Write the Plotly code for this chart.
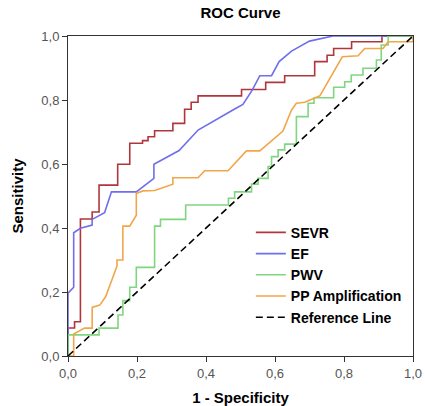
import plotly.graph_objects as go

# ---- data ----
sevr_fpr = [0, 0, 0.019, 0.019, 0.036, 0.036, 0.07, 0.07, 0.09, 0.09, 0.144, 0.144, 0.179, 0.179,
            0.216, 0.216, 0.232, 0.232, 0.251, 0.251, 0.304, 0.304, 0.338, 0.338, 0.357, 0.357,
            0.377, 0.377, 0.503, 0.503, 0.573, 0.573, 0.628, 0.628, 0.715, 0.715, 0.751, 0.751,
            0.770, 0.770, 0.822, 0.822, 0.910, 0.910, 1.0]
sevr_tpr = [0, 0.0875, 0.0875, 0.107, 0.107, 0.428, 0.428, 0.45, 0.45, 0.534, 0.534, 0.599, 0.599, 0.665,
            0.665, 0.673, 0.673, 0.685, 0.685, 0.704, 0.704, 0.727, 0.727, 0.771, 0.771, 0.793,
            0.793, 0.813, 0.813, 0.833, 0.833, 0.855, 0.855, 0.876, 0.876, 0.92, 0.92, 0.94,
            0.94, 0.961, 0.961, 0.982, 0.982, 1.0, 1.0]

ef_fpr = [0, 0, 0.0165, 0.0165, 0.036, 0.07, 0.07, 0.106, 0.126, 0.198, 0.249, 0.249, 0.322, 0.377,
          0.483, 0.507, 0.534, 0.556, 0.59, 0.612, 0.648, 0.70, 0.768, 1.0]
ef_tpr = [0, 0.196, 0.215, 0.385, 0.399, 0.409, 0.427, 0.448, 0.513, 0.513, 0.555, 0.599, 0.642, 0.706,
          0.772, 0.786, 0.831, 0.876, 0.876, 0.92, 0.953, 0.984, 1.0, 1.0]

pwv_fpr = [0, 0, 0.09, 0.09, 0.145, 0.145, 0.159, 0.159, 0.179, 0.179, 0.198, 0.198, 0.251, 0.251,
           0.268, 0.268, 0.341, 0.341, 0.465, 0.465, 0.483, 0.483, 0.532, 0.532, 0.551, 0.551,
           0.58, 0.58, 0.59, 0.59, 0.609, 0.609, 0.628, 0.628, 0.662, 0.662, 0.696, 0.696,
           0.713, 0.713, 0.77, 0.77, 0.802, 0.802, 0.821, 0.821, 0.855, 0.855, 0.894, 0.894,
           0.908, 0.908, 0.928, 0.928, 1.0]
pwv_tpr = [0, 0.066, 0.066, 0.087, 0.087, 0.128, 0.128, 0.173, 0.173, 0.215, 0.215, 0.277, 0.277, 0.406,
           0.406, 0.427, 0.427, 0.472, 0.472, 0.493, 0.493, 0.513, 0.513, 0.537, 0.537, 0.555,
           0.555, 0.592, 0.592, 0.623, 0.623, 0.644, 0.644, 0.662, 0.662, 0.748, 0.748, 0.79,
           0.79, 0.807, 0.807, 0.84, 0.84, 0.857, 0.857, 0.878, 0.878, 0.899, 0.899, 0.925,
           0.925, 0.972, 0.972, 1.0, 1.0]

pp_fpr = [0, 0.0165, 0.0165, 0.048, 0.07, 0.07, 0.092, 0.109, 0.129, 0.142, 0.142, 0.159, 0.159,
          0.179, 0.198, 0.198, 0.217, 0.251, 0.304, 0.304, 0.377, 0.396, 0.464, 0.517, 0.556,
          0.623, 0.648, 0.662, 0.686, 0.71, 0.73, 0.795, 0.841, 0.86, 0.913, 0.928, 1.0, 1.0]
pp_tpr = [0, 0, 0.069, 0.087, 0.087, 0.152, 0.159, 0.185, 0.243, 0.281, 0.30, 0.30, 0.406,
          0.406, 0.44, 0.508, 0.516, 0.517, 0.537, 0.557, 0.557, 0.579, 0.579, 0.641, 0.641,
          0.703, 0.769, 0.79, 0.793, 0.805, 0.813, 0.935, 0.938, 0.961, 0.961, 0.982, 0.982, 1.0]

ref_x = [0, 1]
ref_y = [0, 1]

series_names = ["SEVR", "EF", "PWV", "PP Amplification"]
series_colors = ["#B0363C", "#6E6EEE", "#7FD67F", "#F2A64A"]
tick_vals = [0, 0.2, 0.4, 0.6, 0.8, 1.0]

FONT = "Arial, 'Liberation Sans', sans-serif"

fig = go.Figure()
for name, xs, ys, col in zip(series_names,
                             [sevr_fpr, ef_fpr, pwv_fpr, pp_fpr],
                             [sevr_tpr, ef_tpr, pwv_tpr, pp_tpr],
                             series_colors):
    fig.add_trace(go.Scatter(x=xs, y=ys, mode="lines", name=name,
                             line=dict(color=col, width=1.6)))
fig.add_trace(go.Scatter(x=ref_x, y=ref_y, mode="lines", name="Reference Line",
                         line=dict(color="black", width=1.6, dash="7px,4px")))

axis_common = dict(range=[0, 1], tickvals=tick_vals, tickformat=".1f",
                   showline=True, mirror=True, linecolor="#333", linewidth=1,
                   ticks="outside", ticklen=5, tickcolor="#333", showgrid=False,
                   zeroline=False, automargin=False,
                   tickfont=dict(family=FONT, size=13, color="#555"))

fig.update_layout(
    width=425, height=406,
    margin=dict(l=68, r=12, t=36, b=50),
    paper_bgcolor="white", plot_bgcolor="white",
    separators=", ",
    font=dict(family=FONT),
    title=dict(text="<b>ROC Curve</b>", x=0.5, xref="paper", y=1 - 13 / 406,
               yref="container", xanchor="center", yanchor="middle",
               font=dict(family=FONT, size=15, color="black")),
    xaxis=dict(title=dict(text="<b>1 - Specificity</b>", standoff=20,
                          font=dict(family=FONT, size=15, color="black")), **axis_common),
    yaxis=dict(title=dict(text="<b>Sensitivity</b>", standoff=14,
                          font=dict(family=FONT, size=15, color="black")), **axis_common),
    legend=dict(x=0.53, y=0.435, xanchor="left", yanchor="top",
                bgcolor="rgba(255,255,255,0)", borderwidth=0,
                font=dict(family=FONT, size=14, color="black", weight="bold"),
                itemwidth=30, tracegroupgap=0),
    showlegend=True,
)

fig.write_html("out.html",
               config={"displayModeBar": False},
               post_script="document.body.style.margin='0';document.body.style.padding='0';")
